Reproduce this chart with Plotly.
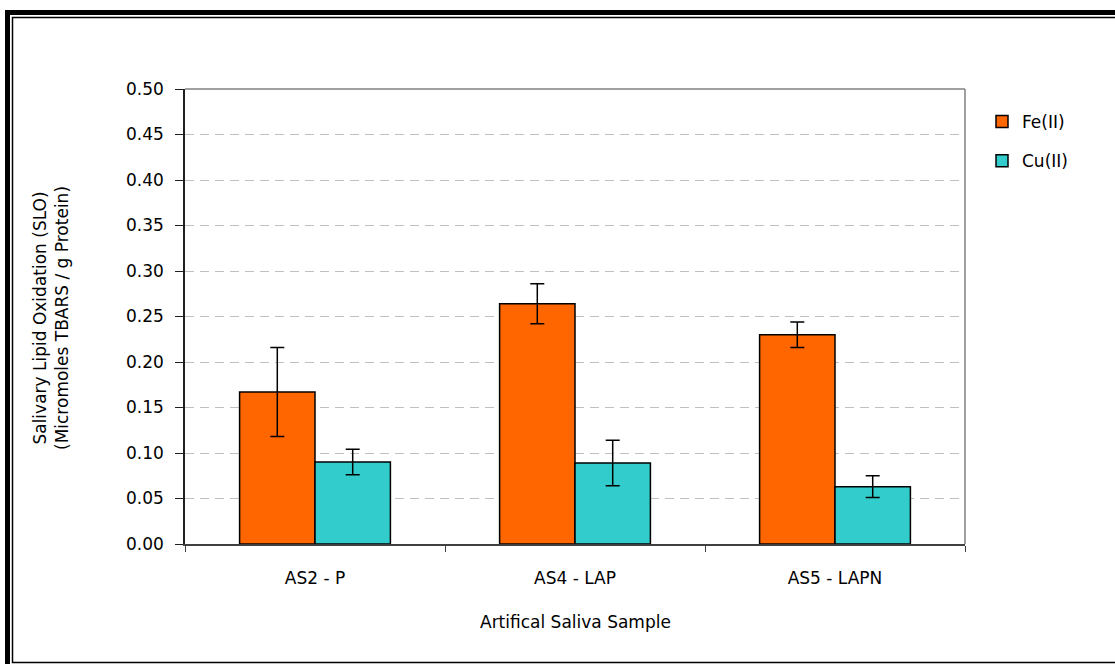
import plotly.graph_objects as go

# Artificial saliva samples and lipid oxidation results
samples = ["AS2 - P", "AS4 - LAP", "AS5 - LAPN"]
fe_values = [0.167, 0.264, 0.230]
fe_errors = [0.049, 0.022, 0.014]
cu_values = [0.090, 0.089, 0.063]
cu_errors = [0.014, 0.025, 0.012]
y_ticks = [0.00, 0.05, 0.10, 0.15, 0.20, 0.25, 0.30, 0.35, 0.40, 0.45, 0.50]

W, H = 1115, 664
L, R, T, B = 185, 965, 89, 544
FONT = "DejaVu Sans, sans-serif"
FS = 17


def px_x(x):
    return (x - L) / (R - L)


def px_y(y):
    return (B - y) / (B - T)


fig = go.Figure()
fig.add_trace(go.Bar(
    name="Fe(II)", x=samples, y=fe_values, legendgroup="fe",
    marker=dict(color="#FF6600", line=dict(color="black", width=1.5)),
    error_y=dict(type="data", array=fe_errors, color="black", thickness=1.5, width=7),
))
fig.add_trace(go.Bar(
    name="Cu(II)", x=samples, y=cu_values, legendgroup="cu",
    marker=dict(color="#33CCCC", line=dict(color="black", width=1.5)),
    error_y=dict(type="data", array=cu_errors, color="black", thickness=1.5, width=7),
))

fig.update_layout(
    width=W, height=H,
    margin=dict(l=L, r=W - R, t=T, b=H - B),
    paper_bgcolor="white", plot_bgcolor="white",
    barmode="group", bargap=0.42, bargroupgap=0,
    font=dict(family=FONT, size=FS, color="black"),
    showlegend=True,
    legend=dict(x=px_x(982), y=px_y(104), xanchor="left", yanchor="top",
                font=dict(size=FS), tracegroupgap=14, traceorder="grouped",
                bgcolor="rgba(0,0,0,0)"),
)

fig.update_xaxes(
    showline=True, linecolor="#404040", linewidth=1.5, mirror=False,
    ticks="outside", tickson="boundaries", ticklen=6, tickcolor="#404040",
    tickfont=dict(size=FS), ticklabelstandoff=18, showgrid=False,
)
fig.update_yaxes(
    range=[0, 0.5], tickvals=y_ticks, ticktext=[f"{v:.2f}" for v in y_ticks],
    showline=True, linecolor="#202020", linewidth=1.5,
    ticks="outside", ticklen=8, tickcolor="#202020",
    tickfont=dict(size=FS), ticklabelstandoff=8,
    showgrid=True, gridcolor="#C0C0C0", gridwidth=1, griddash="9px,6px",
    zeroline=False,
)

# plot area border on the top and right
fig.add_shape(type="line", xref="paper", yref="paper", x0=0, x1=1, y0=1, y1=1,
              line=dict(color="#808080", width=1.5))
fig.add_shape(type="line", xref="paper", yref="paper", x0=1, x1=1, y0=0, y1=1,
              line=dict(color="#808080", width=1.5))

# double frame around the chart
fig.add_shape(type="rect", xref="paper", yref="paper",
              x0=px_x(7.5), y0=px_y(12.5), x1=px_x(1130), y1=px_y(680),
              line=dict(color="black", width=5), layer="above")
fig.add_shape(type="rect", xref="paper", yref="paper",
              x0=px_x(12.5), y0=px_y(17.5), x1=px_x(1125), y1=px_y(662.5),
              line=dict(color="black", width=1.5), layer="above")

# axis titles
fig.add_annotation(text="Salivary Lipid Oxidation (SLO)<br>(Micromoles TBARS / g Protein)",
                   xref="paper", yref="paper", x=px_x(51), y=px_y(318),
                   textangle=-90, showarrow=False, font=dict(size=FS),
                   xanchor="center", yanchor="middle")
fig.add_annotation(text="Artifical Saliva Sample",
                   xref="paper", yref="paper", x=px_x(575), y=px_y(622),
                   showarrow=False, font=dict(size=FS),
                   xanchor="center", yanchor="middle")

fig.write_html("out.html")
